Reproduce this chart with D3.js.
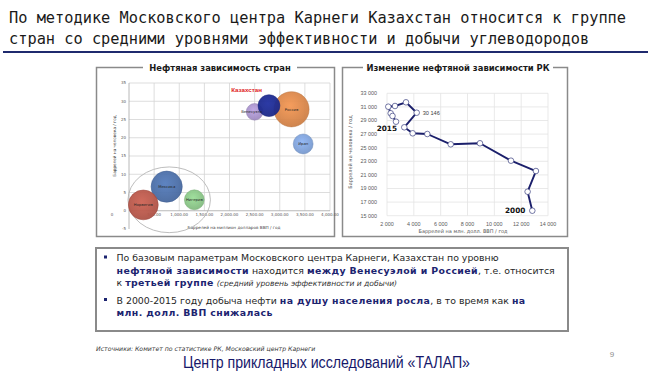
<!DOCTYPE html>
<html><head><meta charset="utf-8">
<script src="https://cdn.jsdelivr.net/npm/d3@7"></script>
<style>html,body{margin:0;padding:0;background:#fff;}svg{display:block;}</style>
</head><body>
<script>
// ---------- DATA ----------
const titleLines = ["По методике Московского центра Карнеги Казахстан относится к группе",
                    "стран со средними уровнями эффективности и добычи углеводородов"];
// Left bubble chart
const countries = ["Венесуэла","Россия","Иран","Мексика","Норвегия","Нигерия","Казахстан"];
const bblPerGdp = [2500, 3234, 3466, 750, 285, 1300, 2786];
const bblPerCapita = [27.1, 27.8, 18.3, 6.6, 1.6, 3.0, 28.8];
const bubbleSize = [70, 313, 100, 246, 225, 100, 121];
const bubbleColors = ["#a792c9","#d8864a","#7fa1d8","#4b6ea7","#b6574a","#89c486","#1d2a8e"];
const leftXTicks = [0,500,1000,1500,2000,2500,3000,3500,4000];
const leftYTicks = [-5,0,5,10,15,20,25,30,35];
// Right line chart (Kazakhstan 2000-2015)
const years = [2000,2001,2002,2003,2004,2005,2006,2007,2008,2009,2010,2011,2012,2013,2014,2015];
const kzBblPerGdp = [12830,12480,13100,11240,8930,6750,5003,3915,3289,4213,3416,2596,2097,2276,2410,2671];
const kzBblPerCapita = [15735,18530,21570,23090,25650,25500,27015,27118,28000,30146,31676,31132,31029,30059,29662,28824];
const rightXTicks = [2000,4000,6000,8000,10000,12000,14000];
const rightYTicks = [15000,17000,19000,21000,23000,25000,27000,29000,31000,33000];

const W = 650, H = 376;
const svg = d3.select("body").append("svg").attr("width", W).attr("height", H)
  .style("font-family", "'DejaVu Sans', Verdana, sans-serif");
const defs = svg.append("defs");

// ---------- TITLE ----------
svg.append("g").selectAll("text").data(titleLines).join("text")
  .attr("x", 9).attr("y", (d,i) => 23 + i*21)
  .style("font-family", "'DejaVu Sans Mono', monospace").style("font-size", "15.3px")
  .attr("fill", "#1a1a1a").text(d => d);
svg.append("line").attr("x1", 3).attr("x2", 648).attr("y1", 52).attr("y2", 52)
  .attr("stroke", "#1f2a6e").attr("stroke-width", 2);

// ---------- PANEL FRAMES ----------
function panel(x0, x1, y0, y1, gapL, gapR, title, cx) {
  const g = svg.append("g").attr("stroke", "#8a8a8a").attr("stroke-width", 1.5).attr("fill", "none");
  g.append("path").attr("d", `M${gapL},${y0}H${x0}V${y1}H${x1}V${y0}H${gapR}`);
  svg.append("text").attr("x", cx).attr("y", y0 + 3).attr("text-anchor", "middle")
    .style("font-size", "8.4px").style("font-weight", "bold").attr("fill", "#1a1a1a").text(title);
}
panel(96.5, 334.5, 67.5, 236.5, 143, 297, "Нефтяная зависимость стран", 220);
panel(342.5, 567.5, 67.5, 236.5, 363, 553, "Изменение нефтяной зависимости РК", 458);

// ---------- LEFT BUBBLE CHART ----------
const xL = d3.scaleLinear().domain([0, 4000]).range([129, 330]);
const yL = d3.scaleLinear().domain([-5, 35]).range([229, 83]);
const rL = d3.scaleSqrt().domain([0, 313]).range([0, 17.6]);
const gL = svg.append("g");
gL.selectAll("line.v").data(leftXTicks.filter(d => d > 0)).join("line")
  .attr("x1", d => xL(d)).attr("x2", d => xL(d)).attr("y1", yL(35)).attr("y2", yL(0))
  .attr("stroke", "#d4d4d4").attr("stroke-width", 0.8);
gL.selectAll("line.h").data(leftYTicks.filter(d => d > 0)).join("line")
  .attr("x1", xL(0)).attr("x2", xL(4000)).attr("y1", d => yL(d)).attr("y2", d => yL(d))
  .attr("stroke", "#d4d4d4").attr("stroke-width", 0.8);
gL.append("line").attr("x1", xL(0)).attr("x2", xL(4000)).attr("y1", yL(0)).attr("y2", yL(0))
  .attr("stroke", "#a6a6a6").attr("stroke-width", 0.8);
gL.append("line").attr("x1", xL(0)).attr("x2", xL(0)).attr("y1", yL(-5)).attr("y2", yL(35))
  .attr("stroke", "#a6a6a6").attr("stroke-width", 0.8);
const fmtL = d3.format(",.2f");
gL.selectAll("text.xt").data(leftXTicks).join("text")
  .attr("x", d => d === 0 ? xL(0) - 17 : xL(d)).attr("y", yL(0) + 5.5)
  .attr("text-anchor", "middle").style("font-size", "4px").attr("fill", "#595959")
  .text(d => d === 0 ? "0" : fmtL(d));
gL.selectAll("text.yt").data(leftYTicks).join("text")
  .attr("x", xL(0) - 3).attr("y", d => yL(d) + 1.4)
  .attr("text-anchor", "end").style("font-size", "4px").attr("fill", "#595959").text(d => d);
gL.append("text").attr("transform", `translate(${116},${146}) rotate(-90)`)
  .attr("text-anchor", "middle").style("font-size", "4.2px").attr("fill", "#404040")
  .text("Баррелей на человека / год");
gL.append("text").attr("x", 234).attr("y", 228.5).attr("text-anchor", "middle")
  .style("font-size", "4.2px").attr("fill", "#404040")
  .text("Баррелей на миллион долларов ВВП / год");
gL.append("ellipse").attr("cx", xL(800)).attr("cy", yL(3)).attr("rx", xL(820) - xL(0)).attr("ry", yL(0) - yL(9))
  .attr("fill", "none").attr("stroke", "#b5b5b5").attr("stroke-width", 0.9);
countries.forEach((c, i) => {
  const base = d3.color(bubbleColors[i]);
  const grad = defs.append("radialGradient").attr("id", "bg" + i)
    .attr("cx", "45%").attr("cy", "40%").attr("r", "60%");
  grad.append("stop").attr("offset", "0%").attr("stop-color", base.brighter(0.35));
  grad.append("stop").attr("offset", "100%").attr("stop-color", base.darker(0.15));
});
gL.selectAll("circle.b").data(countries).join("circle")
  .attr("cx", (d,i) => xL(bblPerGdp[i])).attr("cy", (d,i) => yL(bblPerCapita[i]))
  .attr("r", (d,i) => rL(bubbleSize[i]))
  .attr("fill", (d,i) => `url(#bg${i})`).attr("stroke", (d,i) => d3.color(bubbleColors[i]).darker(0.4))
  .attr("stroke-width", 0.5).attr("fill-opacity", 0.95);
gL.selectAll("text.bl").data(countries).join("text")
  .filter(d => d !== "Казахстан")
  .attr("x", d => xL(bblPerGdp[countries.indexOf(d)]) + (d === "Венесуэла" ? -3 : 0))
  .attr("y", d => yL(bblPerCapita[countries.indexOf(d)]) + 1.4)
  .attr("text-anchor", "middle").style("font-size", "3.8px").attr("fill", "#262626").text(d => d);
gL.append("text").attr("x", 246.5).attr("y", 91.5).attr("text-anchor", "middle")
  .style("font-family", "'Liberation Sans', Arial, sans-serif")
  .style("font-size", "6.2px").style("font-weight", "bold").attr("fill", "#e01b1b").text("Казахстан");

// ---------- RIGHT LINE CHART ----------
const xR = d3.scaleLinear().domain([2000, 14000]).range([387, 548]);
const yR = d3.scaleLinear().domain([15000, 33000]).range([215.7, 93.3]);
const gR = svg.append("g");
gR.selectAll("line.v").data(rightXTicks).join("line")
  .attr("x1", d => xR(d)).attr("x2", d => xR(d)).attr("y1", yR(33000)).attr("y2", yR(15000))
  .attr("stroke", "#e3e3e3").attr("stroke-width", 0.8);
gR.selectAll("line.h").data(rightYTicks).join("line")
  .attr("x1", xR(2000)).attr("x2", xR(14000)).attr("y1", d => yR(d)).attr("y2", d => yR(d))
  .attr("stroke", "#e3e3e3").attr("stroke-width", 0.8);
const fmtR = v => d3.format(",")(v).replace(/,/g, " ");
gR.selectAll("text.xt").data(rightXTicks).join("text")
  .attr("x", d => xR(d)).attr("y", 226).attr("text-anchor", "middle")
  .style("font-family", "'Liberation Sans', Arial, sans-serif")
  .style("font-size", "5.4px").attr("fill", "#595959").text(fmtR);
gR.selectAll("text.yt").data(rightYTicks).join("text")
  .attr("x", 377).attr("y", d => yR(d) + 1.9).attr("text-anchor", "end")
  .style("font-family", "'Liberation Sans', Arial, sans-serif")
  .style("font-size", "5.4px").attr("fill", "#595959").text(fmtR);
gR.append("text").attr("transform", `translate(${352},${152}) rotate(-90)`)
  .attr("text-anchor", "middle").style("font-size", "5px").attr("fill", "#595959")
  .text("Баррелей на человека / год");
gR.append("text").attr("x", 463).attr("y", 232.5).attr("text-anchor", "middle")
  .style("font-size", "5px").attr("fill", "#595959")
  .text("Баррелей на млн. долл. ВВП / год");
const pts = years.map((y, i) => [xR(kzBblPerGdp[i]), yR(kzBblPerCapita[i])]);
gR.append("path").attr("d", d3.line()(pts)).attr("fill", "none")
  .attr("stroke", "#1b1f6b").attr("stroke-width", 1.9).attr("stroke-linejoin", "round");
gR.selectAll("circle").data(pts).join("circle")
  .attr("cx", d => d[0]).attr("cy", d => d[1]).attr("r", 2.8)
  .attr("fill", "#fff").attr("stroke", "#3a3f80").attr("stroke-width", 0.7);
const i2009 = years.indexOf(2009), i2000 = years.indexOf(2000), i2015 = years.indexOf(2015);
gR.append("text").attr("x", pts[i2009][0] + 6).attr("y", pts[i2009][1] + 2)
  .style("font-family", "'Liberation Sans', Arial, sans-serif")
  .style("font-size", "5.6px").attr("fill", "#404040").text(fmtR(kzBblPerCapita[i2009]));
gR.append("text").attr("x", pts[i2000][0] - 7).attr("y", pts[i2000][1] + 2.5).attr("text-anchor", "end")
  .style("font-size", "7.3px").style("font-weight", "bold").attr("fill", "#111").text(years[i2000]);
gR.append("text").attr("x", pts[i2015][0] + 1).attr("y", pts[i2015][1] + 9.5).attr("text-anchor", "end")
  .style("font-size", "7.3px").style("font-weight", "bold").attr("fill", "#111").text(years[i2015]);

// ---------- TEXT BOX ----------
svg.append("rect").attr("x", 96).attr("y", 248).attr("width", 472).attr("height", 83)
  .attr("fill", "none").attr("stroke", "#8a8a8a").attr("stroke-width", 2);
const NAVY = "#1c2470", DARK = "#262626";
const paras = [
  [[["По базовым параметрам Московского центра Карнеги, Казахстан по уровню", 0]],
   [["нефтяной зависимости", 1], [" находится ", 0], ["между Венесуэлой и Россией", 1], [", т.е. относится", 0]],
   [["к ", 0], ["третьей группе", 1], [" ", 0], ["(средний уровень эффективности и добычи)", 2]]],
  [[["В 2000-2015 году добыча нефти ", 0], ["на душу населения росла", 1], [", в то время как ", 0], ["на", 1]],
   [["млн. долл. ВВП снижалась", 1]]]
];
const baselines = [[261, 273.5, 286], [303.5, 316]];
paras.forEach((p, pi) => {
  svg.append("rect").attr("x", 104).attr("y", baselines[pi][0] - 5.5).attr("width", 3).attr("height", 3)
    .attr("fill", NAVY);
  p.forEach((line, li) => {
    const t = svg.append("text").attr("x", 116.5).attr("y", baselines[pi][li])
      .style("font-size", "9.4px").attr("fill", DARK);
    line.forEach(([s, k]) => {
      const ts = t.append("tspan").text(s);
      if (k === 1) ts.style("font-weight", "bold").style("letter-spacing", "0.4px").attr("fill", NAVY);
      if (k === 2) ts.style("font-style", "italic").style("font-size", "7.6px").attr("fill", "#333");
    });
  });
});

// ---------- FOOTER ----------
svg.append("text").attr("x", 96).attr("y", 351).style("font-size", "6.2px").style("font-style", "italic")
  .attr("fill", "#333").text("Источники: Комитет по статистике РК, Московский центр Карнеги");
svg.append("text").attr("x", 183).attr("y", 367.5)
  .attr("textLength", 287).attr("lengthAdjust", "spacingAndGlyphs")
  .style("font-family", "'Liberation Sans', Arial, sans-serif").style("font-size", "17px")
  .attr("fill", "#16186a").text("Центр прикладных исследований «ТАЛАП»");
svg.append("text").attr("x", 612).attr("y", 357).attr("text-anchor", "middle")
  .style("font-family", "'Liberation Sans', Arial, sans-serif").style("font-size", "8px")
  .attr("fill", "#8c8c8c").text("9");
</script>
</body></html>
